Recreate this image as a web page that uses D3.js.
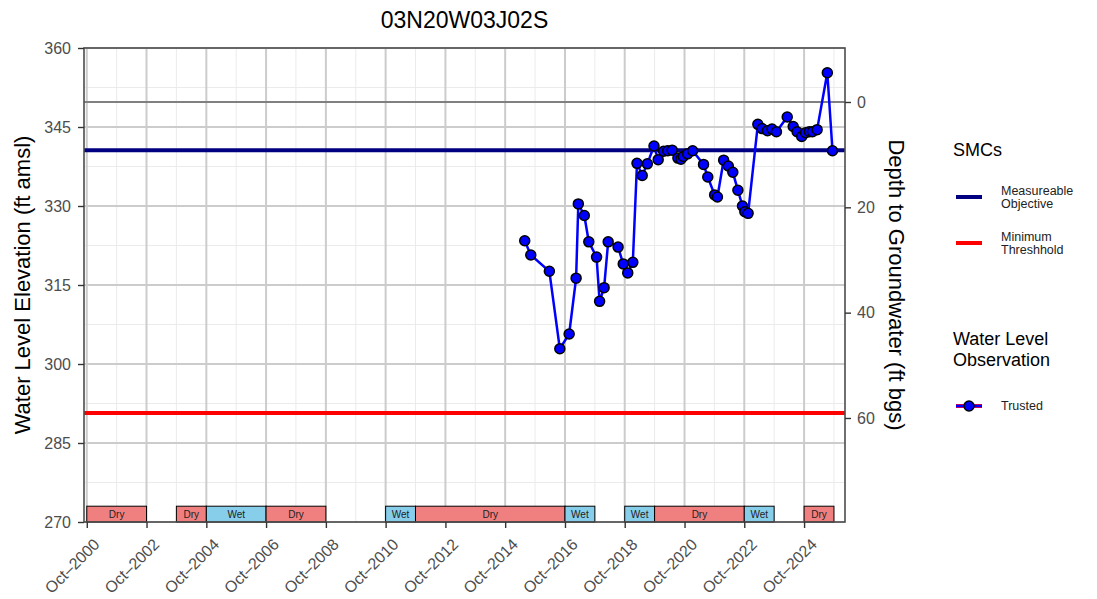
<!DOCTYPE html>
<html>
<head>
<meta charset="utf-8">
<script src="https://d3js.org/d3.v7.min.js"></script>
<title>03N20W03J02S</title>
<style>
	body { margin: 0; background: #fff; }
	text { font-family: "Liberation Sans", Arial, sans-serif; }
	.axis text { fill: #4d4d4d; font-size: 16px; }
	.axis line { stroke: #333; stroke-width: 1.4px; }
	.axis path { display: none; }
</style>
</head>
<body>
<svg id="chart" width="1097" height="599"></svg>
<script>
	// observed water levels (ft amsl)
	var obsDates = ["2015-05-28","2015-08-10","2016-03-24","2016-07-30","2016-11-21","2017-02-14","2017-03-13",
		"2017-05-25","2017-07-19","2017-10-22","2017-11-28","2018-01-22","2018-03-13","2018-07-12","2018-09-13",
		"2018-11-07","2019-01-08","2019-02-28","2019-05-03","2019-07-04","2019-09-24","2019-11-14","2020-01-19",
		"2020-03-09","2020-05-03","2020-07-12","2020-08-18","2020-09-16","2020-11-07","2021-01-08","2021-05-21",
		"2021-07-12","2021-10-04","2021-11-07","2022-01-22","2022-03-20","2022-05-14","2022-07-15","2022-09-09",
		"2022-10-08","2022-11-17","2023-03-16","2023-05-07","2023-07-12","2023-09-05","2023-10-29","2024-03-09",
		"2024-05-21","2024-07-08","2024-09-02","2024-10-19","2024-12-05","2025-01-11","2025-03-09","2025-07-12",
		"2025-09-13"];
	var obsElev = [323.4,320.7,317.6,302.9,305.7,316.3,330.4,328.2,323.2,320.3,311.9,314.5,323.2,322.2,319.0,
		317.3,319.3,338.1,335.8,338.0,341.4,338.8,340.4,340.5,340.6,339.1,338.9,339.4,339.9,340.5,337.9,
		335.5,332.1,331.7,338.7,337.6,336.4,333.0,330.0,328.9,328.6,345.5,344.7,344.3,344.6,344.1,346.9,
		345.1,344.1,343.2,343.9,344.1,344.1,344.5,355.3,340.5];

	// water year types
	var seasonStart = ["2000-10-01","2003-10-01","2004-10-01","2006-10-01","2010-10-01","2011-10-01","2016-10-01",
		"2018-10-01","2019-10-01","2022-10-01","2024-10-01"];
	var seasonEnd = ["2002-10-01","2004-10-01","2006-10-01","2008-10-01","2011-10-01","2016-10-01","2017-10-01",
		"2019-10-01","2022-10-01","2023-10-01","2025-10-01"];
	var seasonType = ["Dry","Dry","Wet","Dry","Wet","Dry","Wet","Wet","Dry","Wet","Dry"];

	var groundSurface = 349.75;
	var measurableObjective = 340.6;
	var minimumThreshold = 290.7;

	var elevTicks = [270, 285, 300, 315, 330, 345, 360];
	var elevMinor = [277.5, 292.5, 307.5, 322.5, 337.5, 352.5];
	var depthTicks = [0, 20, 40, 60];
	var xTickYears = [2000, 2002, 2004, 2006, 2008, 2010, 2012, 2014, 2016, 2018, 2020, 2022, 2024];
	var xMinorYears = [2001, 2003, 2005, 2007, 2009, 2011, 2013, 2015, 2017, 2019, 2021, 2023, 2025];

	var parse = d3.timeParse("%Y-%m-%d");
	var obs = obsDates.map(function(d, i) { return {date: parse(d), elev: obsElev[i]}; });
	var seasons = seasonStart.map(function(d, i) {
		return {start: parse(d), end: parse(seasonEnd[i]), type: seasonType[i]};
	});
	function oct(yr) { return new Date(yr, 9, 1); }

	var pLeft = 84, pRight = 845, pTop = 48, pBottom = 522;

	var x = d3.scaleTime()
		.domain([new Date(2000, 7, 28), new Date(2026, 1, 13)])
		.range([pLeft, pRight]);
	var y = d3.scaleLinear()
		.domain([270, 360])
		.range([pBottom, pTop]);
	var yDepth = d3.scaleLinear()
		.domain([groundSurface - 270, groundSurface - 360])
		.range([pBottom, pTop]);

	var svg = d3.select("#chart");

	var panel = svg.append("g");
	panel.append("rect")
		.attr("x", pLeft).attr("y", pTop)
		.attr("width", pRight - pLeft).attr("height", pBottom - pTop)
		.attr("fill", "#fff");

	// grid
	panel.selectAll(".hminor").data(elevMinor).enter().append("line")
		.attr("x1", pLeft).attr("x2", pRight)
		.attr("y1", function(d) { return y(d); }).attr("y2", function(d) { return y(d); })
		.attr("stroke", "#ebebeb").attr("stroke-width", 1);
	panel.selectAll(".vminor").data(xMinorYears).enter().append("line")
		.attr("x1", function(d) { return x(oct(d)); }).attr("x2", function(d) { return x(oct(d)); })
		.attr("y1", pTop).attr("y2", pBottom)
		.attr("stroke", "#ebebeb").attr("stroke-width", 1);
	panel.selectAll(".hmajor").data(elevTicks).enter().append("line")
		.attr("x1", pLeft).attr("x2", pRight)
		.attr("y1", function(d) { return y(d); }).attr("y2", function(d) { return y(d); })
		.attr("stroke", "#cccccc").attr("stroke-width", 2);
	panel.selectAll(".vmajor").data(xTickYears).enter().append("line")
		.attr("x1", function(d) { return x(oct(d)); }).attr("x2", function(d) { return x(oct(d)); })
		.attr("y1", pTop).attr("y2", pBottom)
		.attr("stroke", "#cccccc").attr("stroke-width", 2);

	// reference lines
	panel.append("line")
		.attr("x1", pLeft).attr("x2", pRight)
		.attr("y1", y(groundSurface)).attr("y2", y(groundSurface))
		.attr("stroke", "#808080").attr("stroke-width", 2);
	panel.append("line")
		.attr("x1", pLeft).attr("x2", pRight)
		.attr("y1", y(measurableObjective)).attr("y2", y(measurableObjective))
		.attr("stroke", "#000080").attr("stroke-width", 4);
	panel.append("line")
		.attr("x1", pLeft).attr("x2", pRight)
		.attr("y1", y(minimumThreshold)).attr("y2", y(minimumThreshold))
		.attr("stroke", "#ff0000").attr("stroke-width", 4);

	// wet / dry years
	var sg = panel.selectAll(".season").data(seasons).enter().append("g");
	sg.append("rect")
		.attr("x", function(d) { return x(d.start); })
		.attr("y", y(273))
		.attr("width", function(d) { return x(d.end) - x(d.start); })
		.attr("height", y(270) - y(273))
		.attr("fill", function(d) { return d.type == "Dry" ? "#f08080" : "#87ceeb"; })
		.attr("stroke", "#000").attr("stroke-width", 1);
	sg.append("text")
		.attr("x", function(d) { return (x(d.start) + x(d.end)) / 2; })
		.attr("y", y(271.5) + 3.5)
		.attr("text-anchor", "middle")
		.style("font-size", "10px")
		.attr("fill", "#222")
		.text(function(d) { return d.type; });

	// observations
	var line = d3.line()
		.x(function(d) { return x(d.date); })
		.y(function(d) { return y(d.elev); });
	panel.append("path")
		.datum(obs)
		.attr("d", line)
		.attr("fill", "none")
		.attr("stroke", "#0000ff")
		.attr("stroke-width", 2.5);
	panel.selectAll(".pt").data(obs).enter().append("circle")
		.attr("cx", function(d) { return x(d.date); })
		.attr("cy", function(d) { return y(d.elev); })
		.attr("r", 5)
		.attr("fill", "#0000ff")
		.attr("stroke", "#000")
		.attr("stroke-width", 1.5);

	panel.append("rect")
		.attr("x", pLeft).attr("y", pTop)
		.attr("width", pRight - pLeft).attr("height", pBottom - pTop)
		.attr("fill", "none")
		.attr("stroke", "#4d4d4d").attr("stroke-width", 1.6);

	// axes
	svg.append("g")
		.attr("class", "axis")
		.attr("transform", "translate(" + pLeft + ",0)")
		.call(d3.axisLeft(y).tickValues(elevTicks).tickSize(6).tickPadding(7));

	svg.append("g")
		.attr("class", "axis")
		.attr("transform", "translate(" + pRight + ",0)")
		.call(d3.axisRight(yDepth).tickValues(depthTicks).tickSize(6).tickPadding(6));

	svg.append("g")
		.attr("class", "axis")
		.attr("transform", "translate(0," + pBottom + ")")
		.call(d3.axisBottom(x).tickValues(xTickYears.map(oct)).tickSize(6)
			.tickFormat(function(d) { return "Oct\u2013" + d.getFullYear(); }))
		.selectAll("text")
			.attr("text-anchor", "end")
			.attr("dx", 0).attr("dy", 0)
			.attr("transform", "translate(7,17) rotate(-45)");

	// titles
	svg.append("text")
		.attr("x", (pLeft + pRight) / 2).attr("y", 28)
		.attr("text-anchor", "middle")
		.style("font-size", "23px")
		.text("03N20W03J02S");
	svg.append("text")
		.attr("transform", "translate(30," + (pTop + pBottom) / 2 + ") rotate(-90)")
		.attr("text-anchor", "middle")
		.style("font-size", "22px")
		.text("Water Level Elevation (ft amsl)");
	svg.append("text")
		.attr("transform", "translate(889," + (pTop + pBottom) / 2 + ") rotate(90)")
		.attr("text-anchor", "middle")
		.style("font-size", "22px")
		.text("Depth to Groundwater (ft bgs)");

	// legend
	var lg = svg.append("g");
	lg.append("text").attr("x", 953).attr("y", 156).style("font-size", "18px").text("SMCs");
	lg.append("line").attr("x1", 956).attr("x2", 982).attr("y1", 197).attr("y2", 197)
		.attr("stroke", "#000080").attr("stroke-width", 4);
	lg.append("text").attr("x", 1001).attr("y", 195).style("font-size", "12.5px").attr("fill", "#222").text("Measureable");
	lg.append("text").attr("x", 1001).attr("y", 208).style("font-size", "12.5px").attr("fill", "#222").text("Objective");
	lg.append("line").attr("x1", 956).attr("x2", 982).attr("y1", 243).attr("y2", 243)
		.attr("stroke", "#ff0000").attr("stroke-width", 4);
	lg.append("text").attr("x", 1001).attr("y", 241).style("font-size", "12.5px").attr("fill", "#222").text("Minimum");
	lg.append("text").attr("x", 1001).attr("y", 254).style("font-size", "12.5px").attr("fill", "#222").text("Threshhold");

	lg.append("text").attr("x", 953).attr("y", 345).style("font-size", "18px").text("Water Level");
	lg.append("text").attr("x", 953).attr("y", 366).style("font-size", "18px").text("Observation");
	lg.append("line").attr("x1", 956).attr("x2", 982).attr("y1", 406).attr("y2", 406)
		.attr("stroke", "#c00060").attr("stroke-width", 4);
	lg.append("line").attr("x1", 956).attr("x2", 982).attr("y1", 406).attr("y2", 406)
		.attr("stroke", "#0000ff").attr("stroke-width", 2);
	lg.append("circle").attr("cx", 969).attr("cy", 406).attr("r", 5)
		.attr("fill", "#0000ff").attr("stroke", "#000").attr("stroke-width", 1.5);
	lg.append("text").attr("x", 1001).attr("y", 410).style("font-size", "12.5px").attr("fill", "#222").text("Trusted");
</script>
</body>
</html>
